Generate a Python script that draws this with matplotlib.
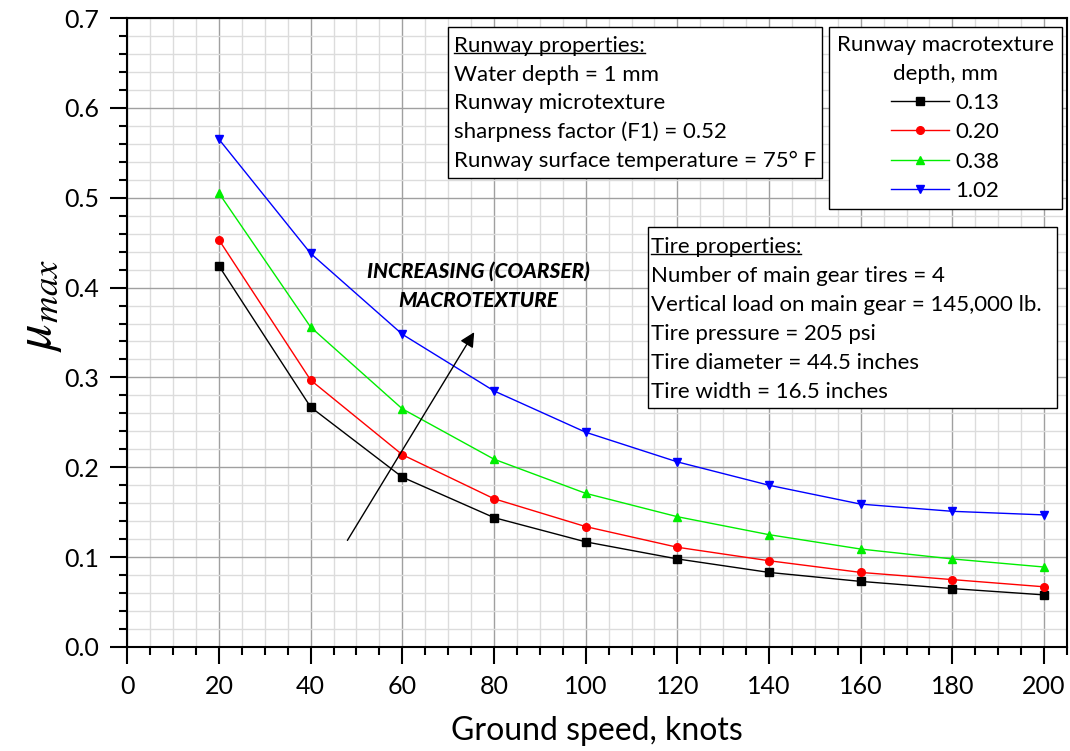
import matplotlib
matplotlib.use("Agg")
import matplotlib.pyplot as plt
from matplotlib.patches import Rectangle
from matplotlib.lines import Line2D
from matplotlib.ticker import MultipleLocator

plt.rcParams['font.family'] = ['Lato', 'DejaVu Sans']
plt.rcParams['mathtext.fontset'] = 'stix'

# Data
speed = [20, 40, 60, 80, 100, 120, 140, 160, 180, 200]
mu_013 = [0.424, 0.267, 0.189, 0.144, 0.117, 0.098, 0.083, 0.073, 0.065, 0.058]
mu_020 = [0.453, 0.297, 0.214, 0.165, 0.134, 0.111, 0.096, 0.083, 0.075, 0.067]
mu_038 = [0.505, 0.356, 0.265, 0.209, 0.171, 0.145, 0.125, 0.109, 0.098, 0.089]
mu_102 = [0.565, 0.438, 0.348, 0.285, 0.239, 0.206, 0.180, 0.159, 0.151, 0.147]
depth_labels = ["0.13", "0.20", "0.38", "1.02"]

runway_lines = ["Runway properties:",
                "Water depth = 1 mm",
                "Runway microtexture",
                "sharpness factor (F1) = 0.52",
                "Runway surface temperature = 75\u00b0 F"]
tire_lines = ["Tire properties:",
              "Number of main gear tires = 4",
              "Vertical load on main gear = 145,000 lb.",
              "Tire pressure = 205 psi",
              "Tire diameter = 44.5 inches",
              "Tire width = 16.5 inches"]

W, H = 1070, 751
fig = plt.figure(figsize=(W / 100, H / 100), dpi=100)
ax = fig.add_axes([127.3 / W, 1 - 647 / H, (1067 - 127.3) / W, (647 - 18) / H])


def fx(x):
    return x / W


def fy(y):
    return 1 - y / H


series = [mu_013, mu_020, mu_038, mu_102]
colors = ["black", "#ff0000", "#00ee00", "#0000ff"]
markers = ["s", "o", "^", "v"]
for vals, c, m, lab in zip(series, colors, markers, depth_labels):
    ax.plot(speed, vals, color=c, marker=m, markersize=5.5, lw=1, label=lab, zorder=3)

ax.set_xlim(0, 205)
ax.set_ylim(0, 0.7)
ax.xaxis.set_major_locator(MultipleLocator(20))
ax.xaxis.set_minor_locator(MultipleLocator(5))
ax.yaxis.set_major_locator(MultipleLocator(0.1))
ax.yaxis.set_minor_locator(MultipleLocator(0.02))
ax.yaxis.set_major_formatter(plt.FuncFormatter(lambda v, p: f"{v:.1f}"))
ax.grid(which="major", color="#a0a0a0", lw=1)
ax.grid(which="minor", color="#dcdcdc", lw=1)
ax.set_axisbelow(True)
ax.tick_params(which="major", direction="out", length=12, width=1.5, labelsize=18, pad=8)
ax.tick_params(which="minor", direction="out", length=6, width=1.5)
for s in ax.spines.values():
    s.set_linewidth(1.5)

ax.set_xlabel("Ground speed, knots", fontsize=23, labelpad=13)
fig.text(fx(40), fy(305), r"$\mu_{max}$", fontsize=38, rotation=90, ha="center", va="center")

# arrow + annotation
ax.annotate("", xy=(76.0, 0.353), xytext=(47.7, 0.116),
            arrowprops=dict(arrowstyle="-|>", color="black", lw=1, mutation_scale=22))
ax.text(76.5, 0.418, "INCREASING (COARSER)", fontsize=15, fontweight="black", style="italic",
        ha="center", va="center")
ax.text(76.5, 0.386, "MACROTEXTURE", fontsize=15, fontweight="black", style="italic",
        ha="center", va="center")

# legend
leg = ax.legend(title="Runway macrotexture\ndepth, mm", loc="upper left",
                bbox_to_anchor=(fx(829), fy(27)), bbox_transform=fig.transFigure,
                borderaxespad=0, fancybox=False, edgecolor="black", framealpha=1,
                fontsize=16, title_fontsize=16, handlelength=2.6, labelspacing=0.42,
                borderpad=0.35, handletextpad=0.3, alignment="center")
leg.get_title().set_multialignment("center")
leg.get_title().set_linespacing(1.55)
leg.get_frame().set_linewidth(1)
leg.set_zorder(10)


def text_box(x0, y0, x1, y1, lines, tx, ty, step):
    fig.add_artist(Rectangle((fx(x0), fy(y1)), fx(x1) - fx(x0), fy(y0) - fy(y1),
                             transform=fig.transFigure, facecolor="white",
                             edgecolor="black", lw=1, zorder=5))
    texts = []
    for i, line in enumerate(lines):
        t = fig.text(fx(tx), fy(ty + i * step), line, fontsize=16, ha="left",
                     va="center", zorder=6)
        texts.append(t)
    return texts[0]


head1 = text_box(448, 27, 822, 178, runway_lines, 454, 46, 28.7)
head2 = text_box(648, 227, 1057, 408, tire_lines, 651, 247, 29)

fig.canvas.draw()
for h in (head1, head2):
    bb = h.get_window_extent()
    yl = bb.y0 + 3
    fig.add_artist(Line2D([bb.x0 / W, bb.x1 / W], [yl / H, yl / H],
                          transform=fig.transFigure, color="black", lw=1, zorder=7))

fig.savefig("out.png", dpi=100)
